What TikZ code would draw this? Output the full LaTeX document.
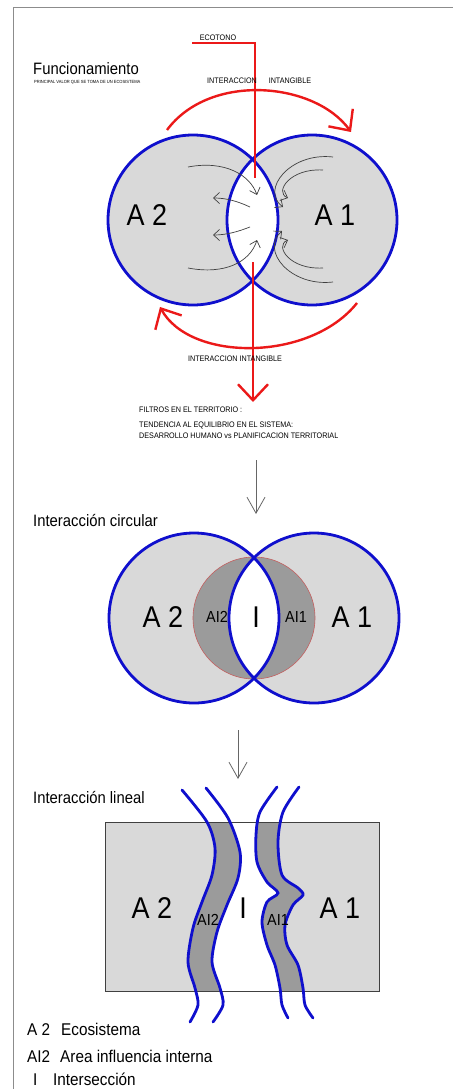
\documentclass[tikz,border=0pt]{standalone}
\usepackage{fontspec}
\setmainfont[FakeStretch=0.9]{Liberation Sans}
\usetikzlibrary{arrows.meta, positioning}
\definecolor{azul}{RGB}{15,15,205}
\definecolor{rojoint}{RGB}{235,25,25}
\definecolor{grisclaro}{RGB}{217,217,217}
\definecolor{grisoscuro}{RGB}{155,155,155}
\definecolor{rojizo}{RGB}{195,95,95}
\tikzstyle{zona} = [fill=grisclaro]
\tikzstyle{borde} = [draw=azul, line width=2.8pt]
\tikzstyle{influencia} = [fill=grisoscuro, draw=rojizo, line width=0.6pt]
\tikzstyle{cauce} = [draw=azul, line width=2.8pt, line cap=round]
\tikzstyle{ecotono} = [draw=rojoint, line width=2.4pt]
\tikzstyle{intangible} = [ecotono, -{Straight Barb[length=16pt, width=30pt]}]
\tikzstyle{flujo} = [draw=black!75, line width=0.7pt, -{Straight Barb[length=6pt, width=11pt]}]
\tikzstyle{paso} = [draw=black!60, line width=0.8pt, -{Straight Barb[length=16pt, width=18pt]}]
\tikzstyle{rotulo} = [inner sep=0pt, font=\fontsize{8}{9}\selectfont]
\tikzstyle{titulo} = [inner sep=0pt, anchor=base west, font=\fontsize{16.5}{19}\selectfont]
\tikzstyle{letra} = [inner sep=0pt, font=\fontsize{30}{34}\selectfont]
\tikzstyle{sub} = [inner sep=0pt, font=\fontsize{16}{18}\selectfont]
\tikzstyle{leyenda} = [inner sep=0pt, anchor=base west, font=\fontsize{17}{19}\selectfont]

\begin{document}
\begin{tikzpicture}[x=1pt, y=-1pt]
  \useasboundingbox (0,0) rectangle (453,1089);
  \draw[black!45, line width=1pt] (13,1089) -- (13,8) -- (453,8);

  % Funcionamiento
  \node[titulo] (func) at (33,75) {Funcionamiento};
  \node[inner sep=0pt, anchor=west, font=\fontsize{4.5}{5}\selectfont] (princ) at (34,82) {PRINCIPAL VALOR QUE SE TOMA DE UN ECOSISTEMA};
  \coordinate (C2) at (193,220);
  \coordinate (C1) at (312,220);
  \fill[zona] (C2) circle[radius=85pt];
  \fill[zona] (C1) circle[radius=85pt];
  \begin{scope}
    \clip (C2) circle[radius=85pt];
    \fill[white] (C1) circle[radius=85pt];
  \end{scope}
  \draw[borde] (C2) circle[radius=85pt];
  \draw[borde] (C1) circle[radius=85pt];
  \node[letra] (a2) at (147,215) {A 2};
  \node[letra] (a1) at (335,215) {A 1};

  % flujos
  \draw[flujo] (188,167) .. controls (225,160) and (250,175) .. (257,195);
  \draw[flujo] (250,207) .. controls (237,201) and (226,198) .. (213,198);
  \draw[flujo] (250,227) .. controls (237,232) and (226,235) .. (213,235);
  \draw[flujo] (188,268) .. controls (225,275) and (250,262) .. (257,240);
  \draw[flujo] (333,157) .. controls (290,152) and (260,190) .. (283,207);
  \draw[flujo] (323,170) .. controls (290,168) and (274,192) .. (288,198);
  \draw[flujo] (323,268) .. controls (290,270) and (274,246) .. (288,240);
  \draw[flujo] (333,282) .. controls (290,287) and (260,250) .. (282,231);

  % ecotono
  \coordinate (eco0) at (192,43);
  \coordinate (eco1) at (255,43);
  \coordinate (eco2) at (255,178);
  \coordinate (fil0) at (253,262);
  \coordinate (fil1) at (253,402);
  \draw[ecotono] (eco0) -- (eco1) -- (eco2);
  \draw[intangible] (fil0) -- (fil1);
  \node[rotulo] (ecot) at (218,38) {ECOTONO};

  % interaccion intangible
  \coordinate (ia0) at (167,130);
  \coordinate (ia1) at (351,132);
  \coordinate (ib0) at (357,303);
  \coordinate (ib1) at (160,307);
  \draw[intangible] (ia0) .. controls (210,72) and (315,82) .. (ia1);
  \draw[intangible] (ib0) .. controls (310,362) and (190,362) .. (ib1);
  \node[rotulo, anchor=west] (int1) at (207,81) {INTERACCION\hspace{12pt}INTANGIBLE};
  \node[rotulo] (int2) at (235,359) {INTERACCION INTANGIBLE};

  % filtros
  \node[rotulo, anchor=base west] (filt1) at (139,412) {FILTROS EN EL TERRITORIO :};
  \node[rotulo, anchor=base west] (filt2) at (139,427) {TENDENCIA AL EQUILIBRIO EN EL SISTEMA:};
  \node[rotulo, anchor=base west] (filt3) at (139,438) {DESARROLLO HUMANO vs PLANIFICACION TERRITORIAL};

  \coordinate (p0) at (256,460);
  \coordinate (p1) at (256,514);
  \draw[paso] (p0) -- (p1);

  % Interaccion circular
  \node[titulo] (circ) at (33,526) {Interacción circular};
  \coordinate (D2) at (194,618);
  \coordinate (D1) at (314,618);
  \coordinate (DI) at (254,618);
  \fill[zona] (D2) circle[radius=85pt];
  \fill[zona] (D1) circle[radius=85pt];
  \filldraw[influencia] (DI) circle[radius=61pt];
  \begin{scope}
    \clip (D2) circle[radius=85pt];
    \fill[white] (D1) circle[radius=85pt];
  \end{scope}
  \draw[borde] (D2) circle[radius=85pt];
  \draw[borde] (D1) circle[radius=85pt];
  \node[letra] (b2) at (163,617) {A 2};
  \node[letra] (b1) at (352,617) {A 1};
  \node[sub] (bi2) at (217,617) {AI2};
  \node[letra] (bi) at (256,617) {I};
  \node[sub] (bi1) at (296,617) {AI1};

  \coordinate (q0) at (238,730);
  \coordinate (q1) at (238,779);
  \draw[paso] (q0) -- (q1);

  % Interaccion lineal
  \node[titulo] (lin) at (33,803) {Interacción lineal};
  \coordinate (R0) at (105,822);
  \coordinate (R1) at (379,991);
  \fill[zona] (R0) rectangle (R1);
  \begin{scope}
    \clip (R0) rectangle (R1);
    \fill[grisoscuro] plot[smooth] coordinates {(182,790) (207,822) (215,848) (212,875) (202,902) (193,928) (188,962) (195,988) (198,1005) (190,1022)}
      -- plot[smooth] coordinates {(213,1022) (223,1005) (220,988) (212,962) (217,932) (227,905) (238,878) (240,852) (228,818) (206,788)} -- cycle;
    \fill[white] plot[smooth] coordinates {(206,788) (228,818) (240,852) (238,878) (227,905) (217,932) (212,962) (220,988) (223,1005) (213,1022)}
      -- plot[smooth] coordinates {(288,1018) (282,1005) (280,988) (275,965) (267,945) (262,922) (267,902) (278,893) (267,882) (257,862) (256,835) (260,812) (277,787)} -- cycle;
    \fill[grisoscuro] plot[smooth] coordinates {(277,787) (260,812) (256,835) (257,862) (267,882) (278,893) (267,902) (262,922) (267,945) (275,965) (280,988) (282,1005) (288,1018)}
      -- plot[smooth] coordinates {(313,1018) (305,1005) (303,988) (298,965) (287,945) (285,925) (293,905) (303,895) (298,888) (282,875) (278,842) (283,812) (299,787)} -- cycle;
  \end{scope}
  \draw[black!75, line width=0.8pt] (R0) rectangle (R1);
  \draw[cauce] plot[smooth] coordinates {(182,790) (207,822) (215,848) (212,875) (202,902) (193,928) (188,962) (195,988) (198,1005) (190,1022)};
  \draw[cauce] plot[smooth] coordinates {(206,788) (228,818) (240,852) (238,878) (227,905) (217,932) (212,962) (220,988) (223,1005) (213,1022)};
  \draw[cauce] plot[smooth] coordinates {(277,787) (260,812) (256,835) (257,862) (267,882) (278,893) (267,902) (262,922) (267,945) (275,965) (280,988) (282,1005) (288,1018)};
  \draw[cauce] plot[smooth] coordinates {(299,787) (283,812) (278,842) (282,875) (298,888) (303,895) (293,905) (285,925) (287,945) (298,965) (303,988) (305,1005) (313,1018)};
  \node[letra] (c2) at (152,908) {A 2};
  \node[letra] (c1) at (340,908) {A 1};
  \node[sub] (ci2) at (208,920) {AI2};
  \node[letra] (ci) at (243,908) {I};
  \node[sub] (ci1) at (278,920) {AI1};

  % leyenda
  \node[leyenda] (l1) at (27,1035) {A 2};
  \node[leyenda] (l1t) at (61,1035) {Ecosistema};
  \node[leyenda] (l2) at (27,1062) {AI2};
  \node[leyenda] (l2t) at (60,1062) {Area influencia interna};
  \node[leyenda] (l3) at (33,1085) {I};
  \node[leyenda] (l3t) at (53,1085) {Intersección};
\end{tikzpicture}
\end{document}
